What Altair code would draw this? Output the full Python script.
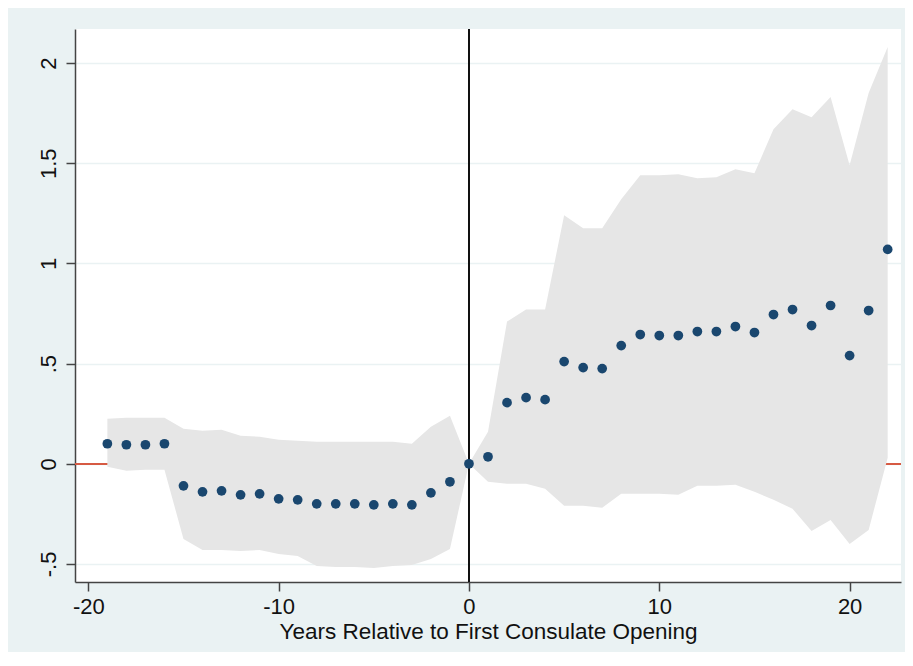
import altair as alt
import pandas as pd

years = list(range(-19, 23))
coef = [0.10, 0.095, 0.095, 0.10, -0.11, -0.14, -0.135, -0.155, -0.15, -0.175,
        -0.18, -0.20, -0.20, -0.20, -0.205, -0.20, -0.205, -0.145, -0.09, 0.0,
        0.035, 0.305, 0.33, 0.32, 0.51, 0.48, 0.475, 0.59, 0.645, 0.64,
        0.64, 0.66, 0.66, 0.685, 0.655, 0.745, 0.77, 0.69, 0.79, 0.54,
        0.765, 1.07]
ci_hi = [0.225, 0.23, 0.23, 0.23, 0.175, 0.165, 0.17, 0.14, 0.135, 0.12,
         0.115, 0.11, 0.11, 0.11, 0.11, 0.11, 0.10, 0.185, 0.24, 0.0,
         0.16, 0.71, 0.77, 0.77, 1.24, 1.175, 1.175, 1.32, 1.44, 1.44,
         1.445, 1.425, 1.43, 1.47, 1.45, 1.67, 1.77, 1.73, 1.83, 1.49,
         1.85, 2.08]
ci_lo = [-0.015, -0.035, -0.03, -0.03, -0.375, -0.43, -0.43, -0.435, -0.43, -0.45,
         -0.46, -0.51, -0.515, -0.515, -0.52, -0.51, -0.505, -0.475, -0.425, 0.0,
         -0.09, -0.10, -0.10, -0.125, -0.21, -0.21, -0.22, -0.15, -0.15, -0.15,
         -0.155, -0.11, -0.11, -0.105, -0.14, -0.18, -0.225, -0.335, -0.28, -0.40,
         -0.33, 0.03]

x_ticks = [-20, -10, 0, 10, 20]
y_ticks = [-0.5, 0, 0.5, 1, 1.5, 2]
x_title = "Years Relative to First Consulate Opening"

df = pd.DataFrame({"year": years, "coef": coef, "hi": ci_hi, "lo": ci_lo})

W, H = 826, 553
FONT = "Liberation Sans"

xscale = alt.Scale(domain=[-20.7, 22.7], nice=False, zero=False)
yscale = alt.Scale(domain=[-0.59, 2.17], nice=False, zero=False)

xaxis = alt.Axis(values=x_ticks, title=x_title, grid=False,
                 labelExpr="datum.value + ''",
                 labelFont=FONT, labelFontSize=22, labelColor="#111",
                 titleFont=FONT, titleFontSize=22.5, titleFontWeight="normal",
                 titleColor="#111", titlePadding=3, labelPadding=5,
                 domainColor="#444", domainWidth=1.5, tickColor="#444",
                 tickWidth=1.5, tickSize=9)
yaxis = alt.Axis(values=y_ticks, title=None, grid=True, gridColor="#EAF2F3",
                 gridWidth=1.5,
                 labelExpr="replace(datum.value + '', '0.', '.')",
                 labelAngle=270, labelAlign="center", labelBaseline="bottom",
                 labelFont=FONT, labelFontSize=22, labelColor="#111",
                 labelPadding=6,
                 domainColor="#444", domainWidth=1.5, tickColor="#444",
                 tickWidth=1.5, tickSize=9)

base = alt.Chart(df)

zero_line = base.mark_rule(color="#D65A43", strokeWidth=1.5).encode(
    x=alt.value(0), x2=alt.value(W),
    y=alt.datum(0, scale=yscale, axis=yaxis))

band = base.mark_area(color="#E6E6E6", opacity=1).encode(
    x=alt.X("year:Q", scale=xscale, axis=xaxis),
    y=alt.Y("lo:Q", scale=yscale, axis=yaxis),
    y2="hi:Q")

vline = base.mark_rule(color="#111111", strokeWidth=1.6).encode(
    x=alt.datum(0, scale=xscale),
    y=alt.value(0), y2=alt.value(H))

points = base.mark_circle(color="#1A476F", size=95, opacity=1).encode(
    x=alt.X("year:Q", scale=xscale, axis=xaxis),
    y=alt.Y("coef:Q", scale=yscale, axis=yaxis))

chart = alt.layer(zero_line, band, vline, points).properties(
    width=W, height=H,
    background="#EAF2F3",
    padding={"left": 67, "top": 21, "right": 4, "bottom": 70},
    autosize=alt.AutoSizeParams(type="none"),
).configure_view(fill="white", stroke=None)

chart.save("out.html", embed_options={"renderer": "svg", "actions": False})
